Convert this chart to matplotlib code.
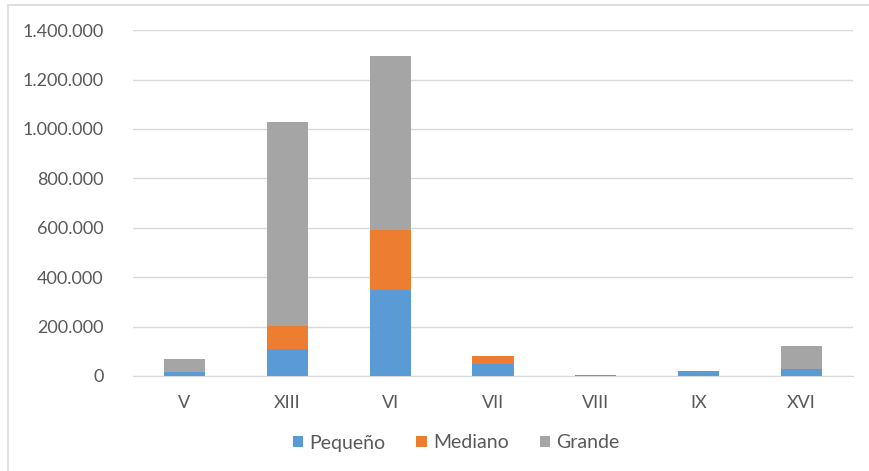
import matplotlib.pyplot as plt
from matplotlib.patches import Rectangle
from matplotlib.ticker import FuncFormatter

plt.rcParams['font.family'] = ['Lato', 'DejaVu Sans']

# datos
regiones = ['V', 'XIII', 'VI', 'VII', 'VIII', 'IX', 'XVI']
pequeno = [17000, 108000, 348000, 47000, 5000, 19000, 27000]
mediano = [0, 94000, 243000, 35000, 0, 0, 0]
grande = [52000, 826000, 706000, 0, 0, 0, 94000]

colores = {'Pequeño': '#5B9BD5', 'Mediano': '#ED7D31', 'Grande': '#A5A5A5'}
texto = '#595959'

fig = plt.figure(figsize=(8.69, 4.71), dpi=100)
ax = fig.add_axes([0.153, 0.2017, 0.8286, 0.7343])

x = range(len(regiones))
base2 = [p + m for p, m in zip(pequeno, mediano)]
ax.bar(x, pequeno, width=0.4, color=colores['Pequeño'], label='Pequeño', zorder=3)
ax.bar(x, mediano, width=0.4, bottom=pequeno, color=colores['Mediano'], label='Mediano', zorder=3)
ax.bar(x, grande, width=0.4, bottom=base2, color=colores['Grande'], label='Grande', zorder=3)

ax.set_xlim(-0.5, len(regiones) - 0.5)
ax.set_ylim(0, 1400000)
ax.set_yticks(range(0, 1400001, 200000))
ax.yaxis.set_major_formatter(FuncFormatter(lambda v, p: f'{int(v):,}'.replace(',', '.')))
ax.set_xticks(list(x))
ax.set_xticklabels(regiones)

ax.grid(axis='y', color='#D9D9D9', linewidth=1, zorder=0)
for s in ['top', 'right', 'left']:
    ax.spines[s].set_visible(False)
ax.spines['bottom'].set_color('#D9D9D9')
ax.tick_params(axis='both', length=0, colors=texto, labelsize=13)
ax.tick_params(axis='y', pad=21)
ax.tick_params(axis='x', pad=14)

fig.legend(loc='center', bbox_to_anchor=(456 / 869, 1 - 443 / 471), ncol=3, frameon=False,
           fontsize=14, labelcolor=texto, handlelength=0.55, handleheight=0.55,
           handletextpad=0.3, columnspacing=1.6)

# marco del area del grafico
fig.patches.append(Rectangle((8 / 869, -0.1), 1.2, 1 - 5 / 471 + 0.1, transform=fig.transFigure,
                             fill=False, edgecolor='#D9D9D9', linewidth=1.2))

fig.savefig('out.png', dpi=100)
